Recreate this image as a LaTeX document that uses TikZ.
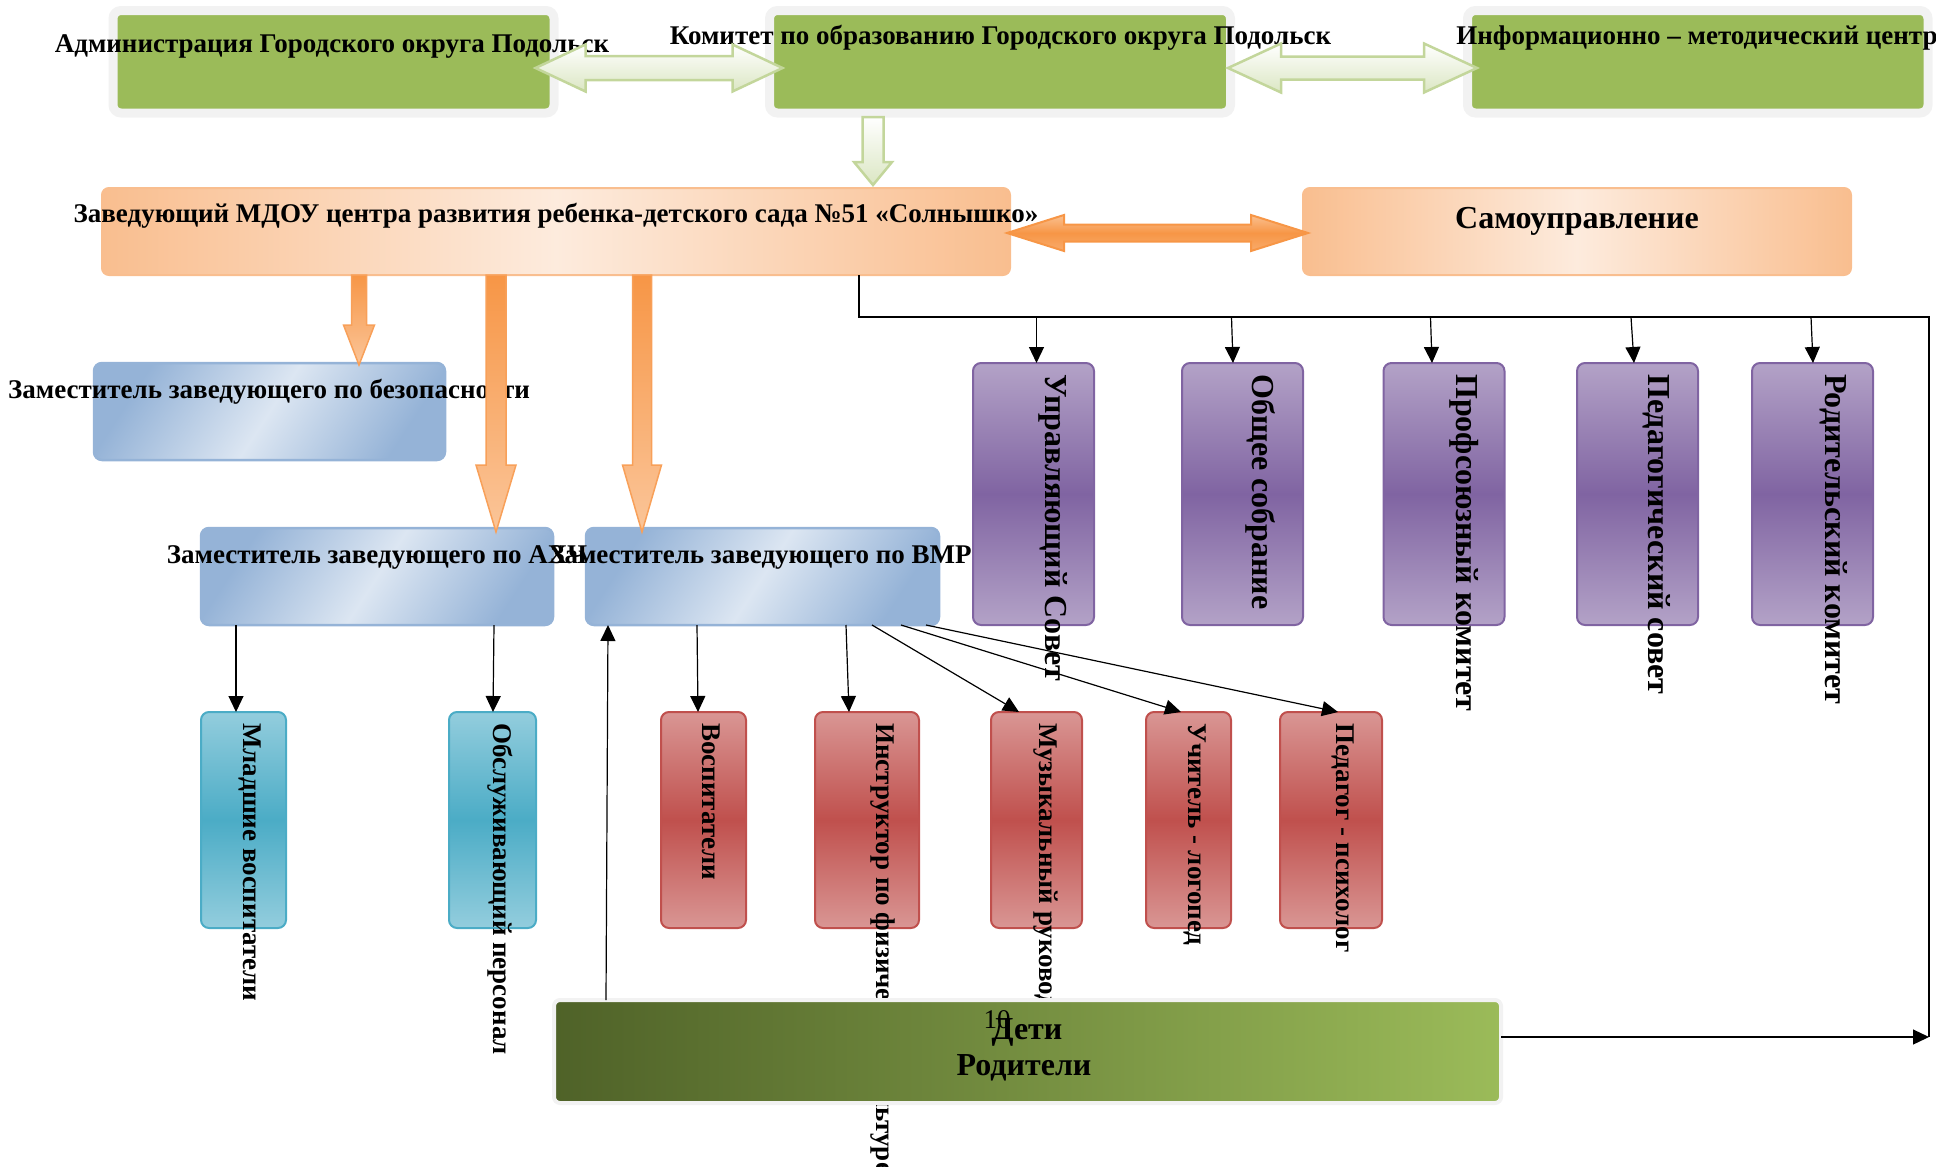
\documentclass[tikz,border=0pt]{standalone}
\usepackage{fontspec}
\setmainfont{Liberation Serif}
\usetikzlibrary{arrows.meta}

\definecolor{grassgreen}{HTML}{9BBB59}
\definecolor{mossgreen}{HTML}{4F6228}
\definecolor{halo}{HTML}{F2F2F2}
\definecolor{palegreen}{HTML}{C3D69B}
\definecolor{peach}{HTML}{F9BE8F}
\definecolor{cream}{HTML}{FDEBDD}
\definecolor{tangerine}{HTML}{F79646}
\definecolor{steelblue}{HTML}{95B3D7}
\definecolor{iceblue}{HTML}{DCE6F2}
\definecolor{lilac}{HTML}{B3A2C7}
\definecolor{plum}{HTML}{8064A2}
\definecolor{rosered}{HTML}{D99694}
\definecolor{brickred}{HTML}{C0504D}
\definecolor{skyteal}{HTML}{93CDDD}
\definecolor{deepteal}{HTML}{4BACC6}

\tikzset{
	topbox/.style={draw=halo, line width=9pt, fill=grassgreen, rounded corners=8pt,
		minimum height=102.5pt, inner sep=0pt, outer sep=0pt},
	headbox/.style={draw=peach, line width=2pt, rounded corners=7pt, left color=peach,
		right color=peach, middle color=cream, minimum height=87pt, inner sep=0pt, outer sep=0pt},
	deputybox/.style={draw=steelblue, line width=2.5pt, rounded corners=8pt, left color=steelblue,
		right color=steelblue, middle color=iceblue, shading angle=57, minimum height=97pt,
		inner sep=0pt, outer sep=0pt},
	councilbox/.style={draw=plum, line width=2pt, rounded corners=8pt, top color=lilac,
		bottom color=lilac, middle color=plum, minimum width=121pt, minimum height=262pt,
		inner sep=0pt, outer sep=0pt},
	staffbox/.style={draw=brickred, line width=2pt, rounded corners=8pt, top color=rosered,
		bottom color=rosered, middle color=brickred, minimum height=216pt, inner sep=0pt, outer sep=0pt},
	servicebox/.style={draw=deepteal, line width=2pt, rounded corners=8pt, top color=skyteal,
		bottom color=skyteal, middle color=deepteal, minimum height=216pt, inner sep=0pt, outer sep=0pt},
	familybox/.style={draw=halo, line width=4pt, rounded corners=6pt, left color=mossgreen,
		right color=grassgreen, minimum width=947pt, minimum height=103pt, inner sep=0pt, outer sep=0pt},
	htext/.style={font=\fontsize{27}{30}\selectfont\bfseries, anchor=base, inner sep=0pt},
	bigtext/.style={htext, font=\fontsize{32}{36}\selectfont\bfseries},
	vtext/.style={font=\fontsize{27}{30}\selectfont\bfseries, anchor=base west, rotate=-90, inner sep=0pt},
	bigvtext/.style={vtext, font=\fontsize{32}{36}\selectfont\bfseries},
	link/.style={line width=1.2pt},
	conn/.style={link, -{Triangle[length=16pt,width=15pt]}},
	greenblock/.style={draw=palegreen, line width=2.5pt, top color=white, bottom color=palegreen!60},
	orangeblock/.style={draw=tangerine, line width=2pt, top color=tangerine!60,
		bottom color=tangerine!80, middle color=tangerine},
	orangedrop/.style={draw=tangerine!90, line width=1.5pt, top color=tangerine, bottom color=tangerine!55},
	pics/blockarrow/.style n args={4}{code={
		\path[pic actions] (0,-#2/2) -- (#1-#4,-#2/2) -- (#1-#4,-#3/2) -- (#1,0)
			-- (#1-#4,#3/2) -- (#1-#4,#2/2) -- (0,#2/2) -- cycle;}},
	pics/twoblockarrow/.style n args={4}{code={
		\path[pic actions] (0,0) -- (#4,-#3/2) -- (#4,-#2/2) -- (#1-#4,-#2/2) -- (#1-#4,-#3/2)
			-- (#1,0) -- (#1-#4,#3/2) -- (#1-#4,#2/2) -- (#4,#2/2) -- (#4,#3/2) -- cycle;}},
}

\begin{document}
\begin{tikzpicture}[x=1pt, y=-1pt]
	\useasboundingbox (0,0) rectangle (1936,1167);

	% top row
	\node[topbox, minimum width=441pt] (admin) at (333.5,61.75) {};
	\node[topbox, minimum width=461pt] (komitet) at (1000,61.75) {};
	\node[topbox, minimum width=460.5pt] (imc) at (1697.75,61.75) {};
	\node[htext] (admintxt) at (332,52) {Администрация Городского округа Подольск};
	\node[htext] (komitettxt) at (1000.5,44) {Комитет по образованию Городского округа Подольск};
	\node[htext] (imctxt) at (1697,44) {Информационно – методический центр};

	% head and self-government
	\node[headbox, minimum width=908pt] (zav) at (556,231.5) {};
	\node[headbox, minimum width=548pt] (samoupr) at (1577,231.5) {};
	\node[htext] (zavtxt) at (556,222) {Заведующий МДОУ центра развития ребенка-детского сада №51 «Солнышко»};
	\node[bigtext] (samouprtxt) at (1577,228) {Самоуправление};

	% deputies
	\node[deputybox, minimum width=351pt] (bezop) at (269.5,411.5) {};
	\node[deputybox, minimum width=352pt] (ahch) at (377,576.5) {};
	\node[deputybox, minimum width=353pt] (vmr) at (762.5,576.5) {};
	\node[htext] (bezoptxt) at (269,398) {Заместитель заведующего по безопасности};
	\node[htext] (ahchtxt) at (377,563) {Заместитель заведующего по АХЧ};
	\node[htext] (vmrtxt) at (761,563) {Заместитель заведующего по ВМР};

	% councils
	\node[councilbox] (upr) at (1033.5,494) {};
	\node[councilbox] (obsh) at (1242.5,494) {};
	\node[councilbox] (prof) at (1444,494) {};
	\node[councilbox] (ped) at (1637.5,494) {};
	\node[councilbox] (rod) at (1812.5,494) {};
	\node[bigvtext] (uprtxt) at (1045,374) {Управляющий Совет};
	\node[bigvtext] (obshtxt) at (1252,374) {Общее собрание};
	\node[bigvtext] (proftxt) at (1456,374) {Профсоюзный комитет};
	\node[bigvtext] (pedtxt) at (1648,374) {Педагогический совет};
	\node[bigvtext] (rodtxt) at (1825,374) {Родительский комитет};

	% staff
	\node[servicebox, minimum width=85pt] (mladsh) at (243.5,820) {};
	\node[servicebox, minimum width=87pt] (obsl) at (492.5,820) {};
	\node[staffbox, minimum width=85pt] (vosp) at (703.5,820) {};
	\node[staffbox, minimum width=104pt] (instr) at (867,820) {};
	\node[staffbox, minimum width=91pt] (muz) at (1036.5,820) {};
	\node[staffbox, minimum width=85pt] (logo) at (1188.5,820) {};
	\node[staffbox, minimum width=102pt] (psih) at (1331,820) {};
	\node[vtext] (mladshtxt) at (243,723) {Младшие воспитатели};
	\node[vtext] (obsltxt) at (493,723) {Обслуживающий персонал};
	\node[vtext] (vosptxt) at (702,723) {Воспитатели};
	\node[vtext] (instrtxt) at (876,723) {Инструктор по физической культуре};
	\node[vtext] (muztxt) at (1039,723) {Музыкальный руководитель};
	\node[vtext] (logotxt) at (1188,723) {Учитель - логопед};
	\node[vtext] (psihtxt) at (1336,723) {Педагог - психолог};

	% block arrows
	\pic[greenblock] at ([shift={(-18.5,6.25)}]admin.east) {twoblockarrow={247}{24}{47}{50}};
	\pic[greenblock] at ([shift={(-2.5,6.25)}]komitet.east) {twoblockarrow={249}{23}{49}{53}};
	\pic[greenblock, rotate=-90] at ([shift={(-127,4)}]komitet.south) {blockarrow={68}{21}{38}{23}};
	\pic[orangeblock] at ([shift={(-3,1.5)}]zav.east) {twoblockarrow={301}{17}{36}{57}};
	\pic[orangedrop, rotate=-90] at ([xshift=-197pt]zav.south) {blockarrow={90}{15}{31}{40}};
	\pic[orangedrop, rotate=-90] at ([xshift=-60pt]zav.south) {blockarrow={257}{20}{40}{67}};
	\pic[orangedrop, rotate=-90] at ([xshift=86pt]zav.south) {blockarrow={257}{19}{39}{67}};

	% self-government bus
	\coordinate (busR) at (1929,317);
	\coordinate (busEnd) at (1929,1037);
	\draw[link] ([xshift=303pt]zav.south) |- (busR) -- (busEnd);
	\draw[conn] ([xshift=3pt]upr.north |- busR) -- ([xshift=3pt]upr.north);
	\draw[conn] ([xshift=-11pt]obsh.north |- busR) -- ([xshift=-9.5pt]obsh.north);
	\draw[conn] ([xshift=-13.5pt]prof.north |- busR) -- ([xshift=-12pt]prof.north);
	\draw[conn] ([xshift=-6.5pt]ped.north |- busR) -- ([xshift=-3.5pt]ped.north);
	\draw[conn] ([xshift=-1.5pt]rod.north |- busR) -- ([xshift=0.5pt]rod.north);

	% deputies to staff
	\draw[conn] ([xshift=-141pt]ahch.south) -- ([xshift=-7.5pt]mladsh.north);
	\draw[conn] ([xshift=117pt]ahch.south) -- ([xshift=0.5pt]obsl.north);
	\draw[conn] ([xshift=-65.5pt]vmr.south) -- ([xshift=-5.5pt]vosp.north);
	\draw[conn] ([xshift=83.5pt]vmr.south) -- ([xshift=-18pt]instr.north);
	\draw[conn] ([xshift=109.5pt]vmr.south) -- ([xshift=-17.5pt]muz.north);
	\draw[conn] ([xshift=138.5pt]vmr.south) -- ([xshift=-7.5pt]logo.north);
	\draw[conn] ([xshift=163.5pt]vmr.south) -- ([xshift=7pt]psih.north);

	% children and parents
	\node[familybox] (deti) at (1027.5,1051.5) {};
	\draw[conn] ([xshift=-421.5pt]deti.north) -- ([xshift=-154.5pt]vmr.south);
	\draw[conn] (deti.east |- busEnd) -- (busEnd);
	\node[font=\fontsize{27}{30}\selectfont, anchor=base, inner sep=0pt] (pagenum) at (997,1028) {10};
	\node[bigtext] (detitxt) at (1027,1039) {Дети};
	\node[bigtext] (roditxt) at (1024,1075) {Родители};
\end{tikzpicture}
\end{document}
